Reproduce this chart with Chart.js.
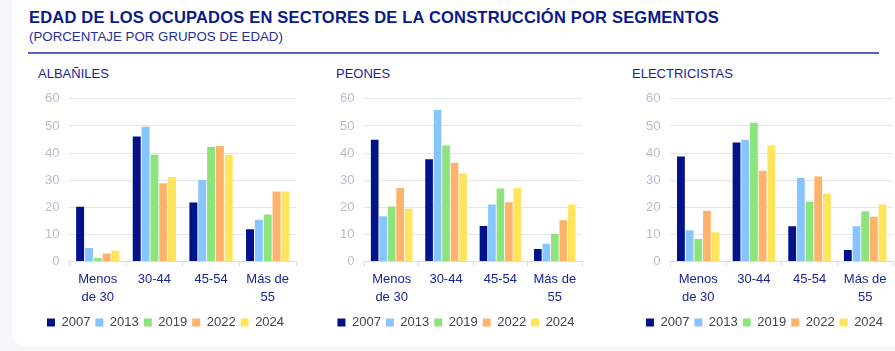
<!DOCTYPE html>
<html>
<head>
<meta charset="utf-8">
<script src="https://cdn.jsdelivr.net/npm/chart.js@4.4.1/dist/chart.umd.min.js"></script>
<style>
  html, body { margin: 0; padding: 0; }
  body { width: 895px; height: 351px; background: #f6f7f9; position: relative; overflow: hidden; font-family: "Liberation Sans", Arial, sans-serif; }
  .card { position: absolute; left: 12px; top: -20px; width: 900px; height: 366px; background: #fff; border-radius: 14px; }
  .title { position: absolute; left: 29px; top: 8px; font-size: 16.5px; letter-spacing: 0.2px; font-weight: bold; color: #0a1a8a; white-space: nowrap; }
  .subtitle { position: absolute; left: 29px; top: 29px; font-size: 13.3px; color: #1f2f9e; white-space: nowrap; }
  .rule { position: absolute; left: 28px; top: 52px; width: 851px; height: 2px; background: #5262c6; }
  .panel-title { position: absolute; top: 66px; font-size: 13px; color: #1a2496; white-space: nowrap; }
  .box { position: absolute; top: 81px; height: 264px; }
</style>
</head>
<body>
<div class="card"></div>
<div class="title">EDAD DE LOS OCUPADOS EN SECTORES DE LA CONSTRUCCIÓN POR SEGMENTOS</div>
<div class="subtitle">(PORCENTAJE POR GRUPOS DE EDAD)</div>
<div class="rule"></div>

<div class="panel-title" style="left:38px">ALBAÑILES</div>
<div class="panel-title" style="left:336px">PEONES</div>
<div class="panel-title" style="left:632px">ELECTRICISTAS</div>

<div class="box" style="left:35px;width:265px"><canvas id="albaniles"></canvas></div>
<div class="box" style="left:330px;width:259px"><canvas id="peones"></canvas></div>
<div class="box" style="left:636px;width:259px"><canvas id="electricistas"></canvas></div>

<script>
// grupos de edad
const categories = [['Menos', 'de 30'], '30-44', '45-54', ['Más de', '55']];
const years = ['2007', '2013', '2019', '2022', '2024'];
const yTicks = [0, 10, 20, 30, 40, 50, 60];

// one row per year, values per age group (%)
const albaniles = [
  [20.2, 46.1, 21.8, 11.9],
  [5.0, 49.7, 30.1, 15.4],
  [1.3, 39.4, 42.2, 17.4],
  [3.0, 28.9, 42.6, 25.8],
  [4.0, 31.2, 39.4, 25.8]
];
const peones = [
  [44.9, 37.7, 13.1, 4.6],
  [16.7, 56.0, 21.0, 6.6],
  [20.3, 42.8, 26.9, 10.2],
  [27.1, 36.4, 21.9, 15.2],
  [19.5, 32.5, 27.1, 21.0]
];
const electricistas = [
  [38.7, 43.9, 13.0, 4.3],
  [11.6, 44.9, 30.8, 13.0],
  [8.3, 51.2, 22.1, 18.6],
  [18.7, 33.5, 31.4, 16.5],
  [10.8, 42.9, 24.9, 21.0]
];

const colors = ['#00138a', '#86c5ff', '#8de47d', '#ffb26a', '#ffe45c'];

function makeChart(id, rows, padRight) {
  const ctx = document.getElementById(id).getContext('2d');
  return new Chart(ctx, {
    type: 'bar',
    data: {
      labels: categories,
      datasets: rows.map((vals, i) => ({
        label: years[i],
        data: vals,
        backgroundColor: colors[i],
        borderWidth: 0,
        categoryPercentage: 0.78,
        barPercentage: 0.9
      }))
    },
    options: {
      responsive: true,
      maintainAspectRatio: false,
      animation: false,
      layout: { padding: { top: 0, right: padRight, bottom: 6, left: 0 } },
      plugins: {
        tooltip: { enabled: false },
        legend: {
          position: 'bottom',
          labels: {
            boxWidth: 8,
            boxHeight: 8,
            padding: 5,
            color: '#3f4554',
            font: { family: 'Liberation Sans', size: 13 }
          }
        }
      },
      scales: {
        x: {
          grid: { drawOnChartArea: false, drawTicks: true, tickLength: 5, color: '#d8dce4' },
          border: { display: true, color: '#d8dce4' },
          ticks: {
            color: '#1a2496',
            padding: 4,
            maxRotation: 0,
            font: { family: 'Liberation Sans', size: 13, lineHeight: 1.4 }
          }
        },
        y: {
          min: 0,
          max: 60,
          afterBuildTicks: axis => { axis.ticks = yTicks.map(v => ({ value: v })); },
          grid: { color: '#e3e6ec', drawTicks: false },
          border: { display: false },
          ticks: {
            color: '#b6bdca',
            padding: 10,
            font: { family: 'Liberation Sans', size: 13 }
          }
        }
      }
    }
  });
}

makeChart('albaniles', albaniles, 4);
makeChart('peones', peones, 7);
makeChart('electricistas', electricistas, 2);
</script>
</body>
</html>
